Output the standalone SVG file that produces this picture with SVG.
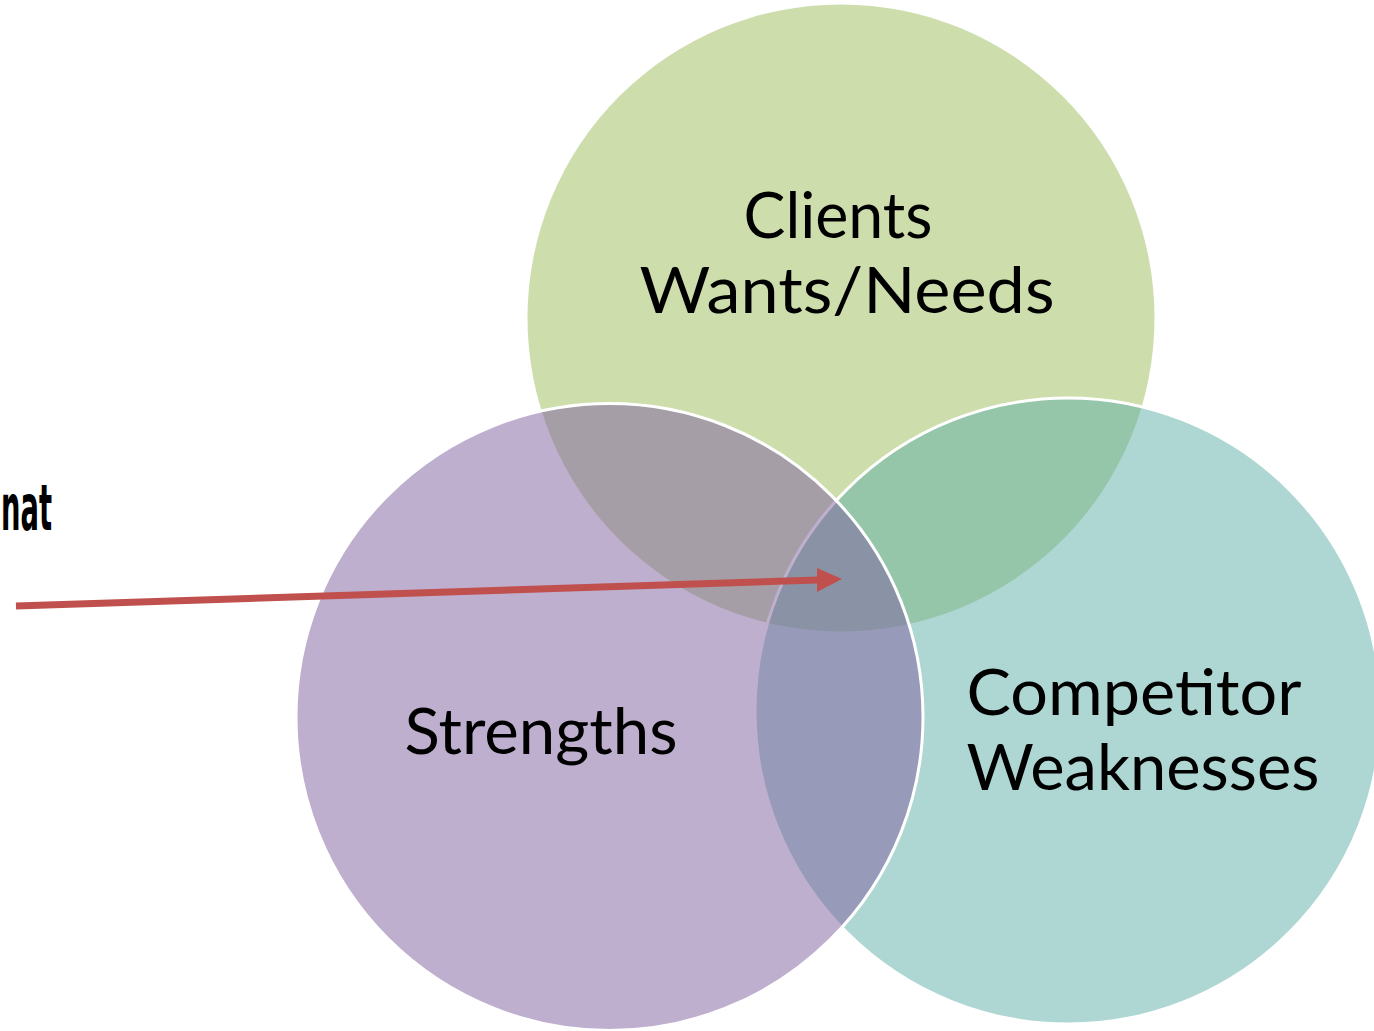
<svg xmlns="http://www.w3.org/2000/svg" width="1374" height="1031" viewBox="0 0 1374 1031">
  <style>
    .lbl { font-family: Lato, "Noto Sans", "Liberation Sans", sans-serif; font-size: 64px; fill: #000; text-anchor: middle; }
    .side { font-family: "Liberation Sans Narrow", "DejaVu Sans Condensed", "Liberation Sans", sans-serif; font-weight: bold; font-size: 64px; fill: #000; }
    .circ { fill-opacity: 0.5; }
  </style>
  <rect width="1374" height="1031" fill="#ffffff"/>
  <g id="clients">
    <circle class="circ" cx="841" cy="318" r="313.5" fill="#9BBB59"/>
  </g>
  <g id="competitor">
    <circle class="circ" cx="1068" cy="711" r="313" fill="#5DAFA7" stroke="#ffffff" stroke-width="3"/>
  </g>
  <g id="strengths">
    <circle class="circ" cx="609.5" cy="717" r="313.5" fill="#7F5F9F" stroke="#ffffff" stroke-width="3"/>
  </g>
  <g id="labels">
    <text class="lbl" x="838" y="238" textLength="189" lengthAdjust="spacingAndGlyphs">Clients</text>
    <text class="lbl" x="847" y="313" textLength="415" lengthAdjust="spacingAndGlyphs">Wants/Needs</text>
    <text class="lbl" x="541" y="754" textLength="273" lengthAdjust="spacingAndGlyphs">Strengths</text>
    <text class="lbl" x="1134" y="715" textLength="335" lengthAdjust="spacingAndGlyphs">Competitor</text>
    <text class="lbl" x="1143" y="790" textLength="353" lengthAdjust="spacingAndGlyphs">Weaknesses</text>
    <text class="side" x="1" y="530" textLength="51" lengthAdjust="spacingAndGlyphs">nat</text>
  </g>
  <g id="connectors">
    <line x1="16" y1="606" x2="818" y2="580" stroke="#C0504D" stroke-width="7"/>
    <polygon points="817,568 842,579 817,592" fill="#C0504D"/>
  </g>
</svg>
